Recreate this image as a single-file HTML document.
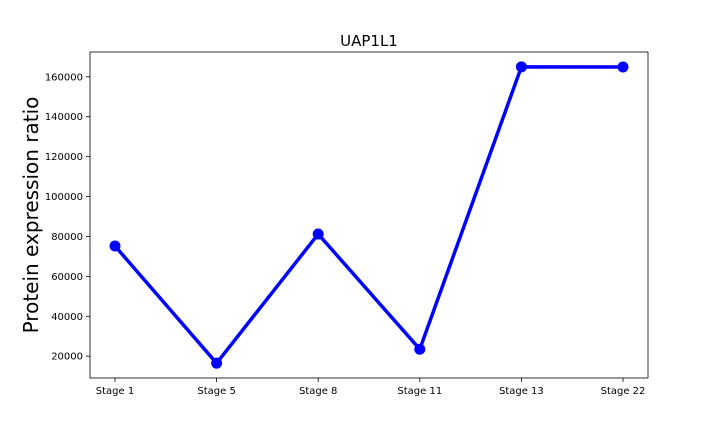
<!DOCTYPE html>
<html><head><meta charset="utf-8"><style>
body{margin:0;background:#fff}
svg text{font-family:"DejaVu Sans","Liberation Sans",sans-serif}
</style></head><body>
<svg id="chart" width="720" height="432" xmlns="http://www.w3.org/2000/svg">
<rect width="720" height="432" fill="#fff"/>
<g id="plot"></g>
</svg>
<script>
const categories = ["Stage 1","Stage 5","Stage 8","Stage 11","Stage 13","Stage 22"];
const values = [75200, 16500, 81200, 23500, 165000, 164900];
const yTicks = [20000,40000,60000,80000,100000,120000,140000,160000];
const L=90,R=648,T=52,B=378;
const yMin=9075,yMax=172425;
const ns="http://www.w3.org/2000/svg";
const g=document.getElementById('plot');
function X(i){return L+25+i*(R-L-50)/(categories.length-1);}
function Y(v){return B-(v-yMin)/(yMax-yMin)*(B-T);}
function mk(t,a,p){const e=document.createElementNS(ns,t);for(const k in a)e.setAttribute(k,a[k]);(p||g).appendChild(e);return e;}
yTicks.forEach(v=>{const y=Y(v);
 const tk=mk('line',{x1:L-4,x2:L,y1:y,y2:y,stroke:'#000','stroke-width':0.8});
 
 
 const t=mk('text',{x:L-7,y:y+3.5,'text-anchor':'end','font-size':10});t.textContent=v;
 
 
});
categories.forEach((c,i)=>{const x=X(i);
 const tk=mk('line',{x1:x,x2:x,y1:B,y2:B+4,stroke:'#000','stroke-width':0.8});
 
 
 const t=mk('text',{x:x,y:B+16,'text-anchor':'middle','font-size':10});t.textContent=c;
 
 
});
const pl=mk('polyline',{points:values.map((v,i)=>X(i)+','+Y(v)).join(' '),fill:'none',stroke:'#0000ff','stroke-width':3.5,'stroke-linejoin':'round'});


values.forEach((v,i)=>{const c=mk('circle',{cx:X(i),cy:Y(v),r:5.5,fill:'#0000ff'});
 
 
});
const fr=mk('rect',{x:L,y:T,width:R-L,height:B-T,fill:'none',stroke:'#000','stroke-width':0.8});


const ti=mk('text',{x:(L+R)/2,y:T-6,'text-anchor':'middle','font-size':15});ti.textContent='UAP1L1';


const yl=mk('text',{x:0,y:0,'text-anchor':'middle','font-size':20,transform:'translate(38,'+((T+B)/2)+') rotate(-90)'});yl.textContent='Protein expression ratio';


</script>
</body></html>
